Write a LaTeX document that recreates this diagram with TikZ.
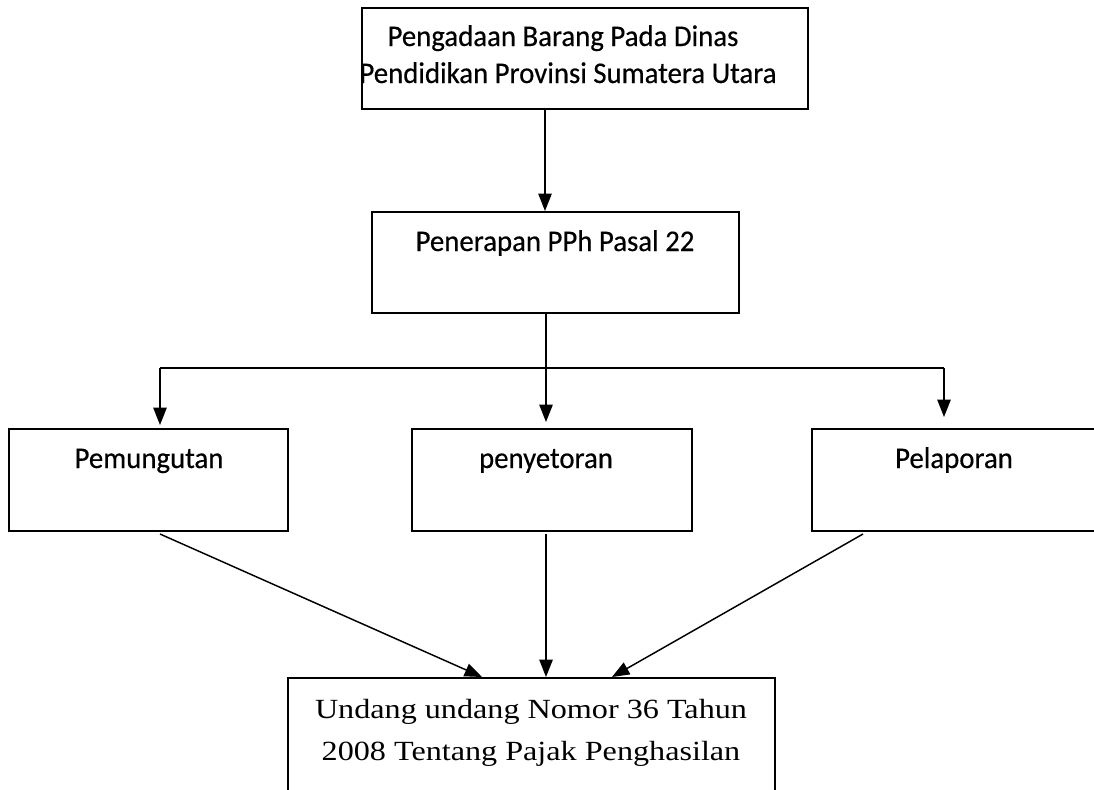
\documentclass[tikz,border=0pt]{standalone}
\usepackage{fontspec}
\setmainfont{Carlito}
\newfontfamily\sansbox[FakeStretch=0.96,FakeBold=0.4]{Carlito}
\newfontfamily\serifbox[FakeStretch=1.16]{Liberation Serif}
\usetikzlibrary{arrows.meta}
\tikzset{
  box/.style={draw, line width=1.5pt, rectangle, inner sep=0pt},
  lbl/.style={inner sep=0pt, anchor=base, font=\sansbox\fontsize{22.5}{27.5}\selectfont, align=center},
  lbls/.style={inner sep=0pt, anchor=base, font=\serifbox\fontsize{20.8}{31.5}\selectfont, align=center},
  conn/.style={line width=1.1pt},
  arr/.style={line width=1.1pt, -{Triangle[width=10pt,length=13pt]}}
}
\begin{document}
\begin{tikzpicture}[x=0.75pt,y=-0.75pt]
\clip (0,0) rectangle (1094,789);
\fill[white] (0,0) rectangle (1094,789);
% boxes
\node[box, minimum width=446*0.75pt, minimum height=101*0.75pt] (top) at (585,58.5) {};
\node[box, minimum width=367*0.75pt, minimum height=101*0.75pt] (pen) at (555.5,262.5) {};
\node[box, minimum width=279*0.75pt, minimum height=102*0.75pt] (pem) at (148.5,480) {};
\node[box, minimum width=280*0.75pt, minimum height=102*0.75pt] (pny) at (552,480) {};
\node[box, minimum width=300*0.75pt, minimum height=102*0.75pt] (pel) at (962,480) {};
\node[box, minimum width=487*0.75pt, minimum height=160*0.75pt] (uu) at (531.5,758) {};
% texts
\node[lbl] (t1) at (563,46) {Pengadaan Barang Pada Dinas};
\node[lbl] (t2) at (568,83) {Pendidikan Provinsi Sumatera Utara};
\node[lbl] (t3) at (555,251) {Penerapan PPh Pasal 22};
\node[lbl] (t4) at (149,468) {Pemungutan};
\node[lbl] (t5) at (546,468) {penyetoran};
\node[lbl] (t6) at (954,468) {Pelaporan};
\node[lbls] (t7) at (531,718) {Undang undang Nomor 36 Tahun};
\node[lbls] (t8) at (531,760) {2008 Tentang Pajak Penghasilan};
% coordinates
\coordinate (cx) at (545,0);
\coordinate (hl) at (160,368);
\coordinate (hr) at (944,368);
\coordinate (hm) at (546,368);
\coordinate (tl) at (160,425);
\coordinate (tm) at (546,422);
\coordinate (tr) at (944,417);
\coordinate (sl) at (160,534);
\coordinate (sm) at (546,534);
\coordinate (sr) at (863,534);
\coordinate (el) at (482,677);
\coordinate (em) at (546,677);
\coordinate (er) at (612,677);
% connectors
\draw[arr] (top.south -| cx) -- (pen.north -| cx);
\draw[arr] (pen.south -| hm) -- (tm);
\draw[conn] (hl) -- (hr);
\draw[arr] (hl) -- (tl);
\draw[arr] (hr) -- (tr);
\draw[arr] (sl) -- (el);
\draw[arr] (sm) -- (em);
\draw[arr] (sr) -- (er);
\end{tikzpicture}
\end{document}
